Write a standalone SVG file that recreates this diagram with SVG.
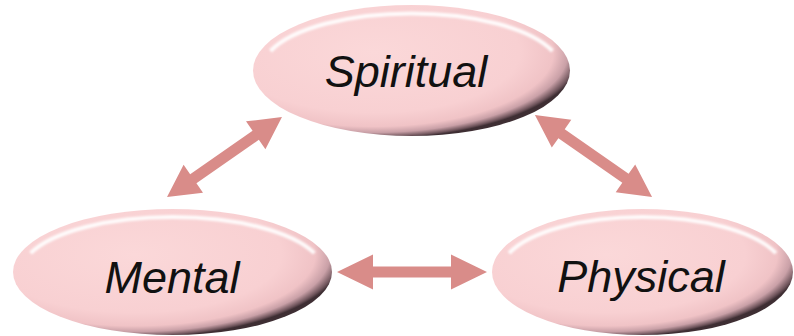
<svg xmlns="http://www.w3.org/2000/svg" width="794" height="336" viewBox="0 0 794 336">
<style>
.node-shape{fill:url(#pinkGrad);}
.hl{fill:none;stroke:#ffffff;stroke-width:4;stroke-opacity:0.9;filter:url(#soft);}
.label{font-family:"Liberation Sans",Arial,sans-serif;font-style:italic;font-size:45px;fill:#111111;text-anchor:middle;}
.arrow{fill:#d98c89;}
</style>
<defs>
<radialGradient id="pinkGrad" cx="0.38" cy="0.36" r="0.66" fx="0.38" fy="0.36">
<stop offset="0" stop-color="#fbd8d9"/>
<stop offset="0.7" stop-color="#f8d0d2"/>
<stop offset="0.86" stop-color="#f0c3c6"/>
<stop offset="0.93" stop-color="#c9a0a7"/>
<stop offset="0.98" stop-color="#6e545b"/>
<stop offset="1" stop-color="#3e2e33"/>
</radialGradient>
<filter id="soft" x="-10%" y="-50%" width="120%" height="200%">
<feGaussianBlur stdDeviation="1.2"/>
</filter>
</defs>
<g id="connectors">
<polygon class="arrow" transform="translate(224.5,157) rotate(-34.8)" points="-70,0 -38,-17 -38,-5.5 38,-5.5 38,-17 70,0 38,17 38,5.5 -38,5.5 -38,17"/>
<polygon class="arrow" transform="translate(593.5,156) rotate(35)" points="-71.5,0 -39,-17 -39,-5.5 39,-5.5 39,-17 71.5,0 39,17 39,5.5 -39,5.5 -39,17"/>
<polygon class="arrow" transform="translate(412,272)" points="-75,0 -39,-17.5 -39,-5.5 39,-5.5 39,-17.5 75,0 39,17.5 39,5.5 -39,5.5 -39,17.5"/>
</g>
<g id="spiritual">
<ellipse class="node-shape" cx="411.5" cy="70.5" rx="158.5" ry="65.5"/>
<path class="hl" d="M 270.5 51 A 150 57 0 0 1 552.5 51"/>
<text class="label" x="406" y="87">Spiritual</text>
</g>
<g id="mental">
<ellipse class="node-shape" cx="172.5" cy="272" rx="159.5" ry="63"/>
<path class="hl" d="M 30.6 253.2 A 151 55 0 0 1 314.4 253.2"/>
<text class="label" x="172" y="293">Mental</text>
</g>
<g id="physical">
<ellipse class="node-shape" cx="642.5" cy="272" rx="150.5" ry="63"/>
<path class="hl" d="M 509.1 253.2 A 142 55 0 0 1 775.9 253.2"/>
<text class="label" x="641" y="292">Physical</text>
</g>
</svg>
